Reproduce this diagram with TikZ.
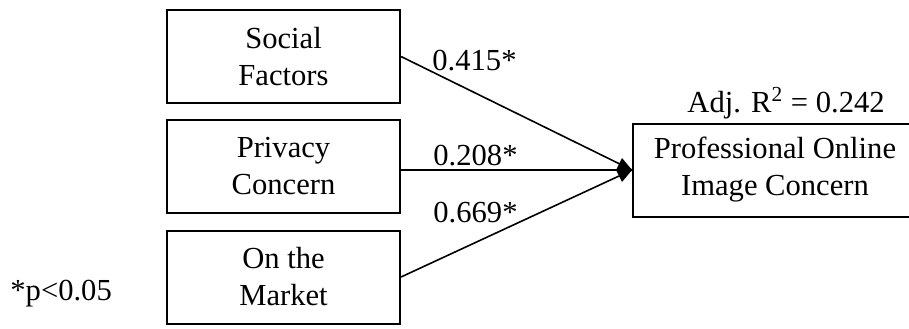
\documentclass[tikz,border=0pt]{standalone}
\usepackage{fontspec}
\setmainfont{Liberation Serif}
\usetikzlibrary{arrows.meta}
\tikzset{
	factor/.style={draw, line width=1pt, minimum width=116.5pt, minimum height=46.5pt, align=center, inner sep=0pt},
	coef/.style={anchor=base west, inner sep=0pt},
	path/.style={line width=0.8pt},
}

\begin{document}
\begin{tikzpicture}[x=0.5pt, y=-0.5pt, font=\fontsize{15.3}{18.5}\selectfont]
	\useasboundingbox (0,0) rectangle (909,328);
	% predictors
	\node[factor] (social) at (283.5,56.5) {Social\\Factors};
	\node[factor] (privacy) at (283.5,166.5) {Privacy\\Concern};
	\node[factor] (market) at (283.5,277) {On the\\Market};
	% outcome
	\node[factor, minimum width=142pt] (poic) at (775,170) {Professional Online\\Image Concern};
	\node[coef] (rsq) at (687,112) {Adj. R\textsuperscript{2} = 0.242};

	\draw[path] (social.east) -- (poic.west);
	\draw[path] (market.east) -- (poic.west);
	\draw[path, -{Kite[length=8pt, width=12pt, inset=3pt]}] (privacy.east |- poic.west) -- (poic.west);

	\node[coef] (c1) at (432,70) {0.415*};
	\node[coef] (c2) at (433,165) {0.208*};
	\node[coef] (c3) at (433,222) {0.669*};
	\node[coef] (note) at (10,300) {*p<0.05};
\end{tikzpicture}
\end{document}
